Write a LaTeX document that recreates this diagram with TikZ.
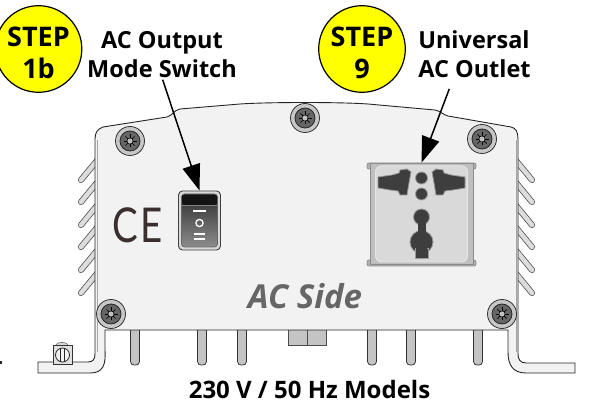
\documentclass[tikz,border=0pt]{standalone}
\usepackage{fontspec}
\setmainfont{Open Sans}
\newfontfamily\markfont{Lato}
\usetikzlibrary{arrows.meta}
\definecolor{stepyellow}{HTML}{FFFF00}
\definecolor{casefill}{HTML}{F2F2F2}
\definecolor{slotdark}{HTML}{3E3E3E}
\definecolor{pegfill}{HTML}{C4C4C4}
\definecolor{sidegray}{HTML}{666666}
\definecolor{markbrown}{HTML}{3A2E2E}
\tikzset{
    stepcircle/.style={circle, draw=black, line width=1.2pt, fill=stepyellow, minimum size=83pt, inner sep=0pt, align=center, font=\bfseries\fontsize{27}{32}\selectfont},
    calllabel/.style={inner sep=0pt, font=\bfseries\fontsize{23.5}{29}\selectfont},
    pointer/.style={draw=black, line width=1.5pt, shorten <=2pt, -{Triangle[length=26pt,width=18pt]}},
    finline/.style={draw=black!75, line width=.7pt, double=pegfill!60, double distance=4.6pt, line cap=round},
    pegline/.style={draw=black!80, line width=.8pt, fill=pegfill, rounded corners=3.5pt},
    slotline/.style={draw=black!40, line width=.8pt, fill=slotdark}
}
\begin{document}
\begin{tikzpicture}[x=1pt,y=-1pt]
    \useasboundingbox (0,0) rectangle (589,403);
    \foreach \y in {183,205,228,250,273,296} {
        \draw[finline] (100,\y-26) -- (81,\y-3);
        \draw[finline] (513,\y-26) -- (532,\y-3);
    }
    \foreach \x in {135,202,242,372,411,478} {
        \draw[pegline] (\x-4.5,325) -- (\x-4.5,365) -- (\x+4.5,365) -- (\x+4.5,325);
    }
    \draw[draw=black!70, fill=pegfill, line width=.8pt] (288,325) rectangle (307,345);
    \draw[draw=black!70, fill=pegfill, line width=.8pt] (307,325) rectangle (326,345);
    \draw[draw=black!85, fill=casefill, line width=.9pt] (38,373) -- (38,362) -- (88,362)
        .. controls (93,362) and (95,359) .. (95,354) -- (95,139)
        .. controls (95,132) and (98,129) .. (103,127) -- (167,117)
        .. controls (172,116) and (174,110) .. (180,109) -- (240,104)
        .. controls (270,102) and (340,102) .. (368,104) -- (435,110)
        .. controls (441,111) and (443,115) .. (448,116) -- (511,127)
        .. controls (516,128) and (518,132) .. (518,139) -- (518,354)
        .. controls (518,359) and (520,363) .. (526,363) -- (575,363) -- (575,373) -- (526,373)
        .. controls (513,373) and (508,365) .. (508,352) -- (508,330) -- (105,330) -- (105,350)
        .. controls (106,365) and (103,373) .. (90,373) -- cycle;
    \draw[draw=black!35, line width=.8pt] (97,140) -- (97,352);
    \draw[draw=black!35, line width=.8pt] (516,140) -- (516,352);
    \foreach \x/\y in {130/141,305/118,482/139,111/314,502/314} {
        \draw[draw=black!80, fill=black!22, line width=.8pt] (\x,\y) circle (14.5);
        \draw[draw=black!85, fill=black!60, line width=.8pt] (\x,\y) circle (10);
        \foreach \a in {0,45,...,315} {
            \draw[black, line width=.7pt] (\x,\y) -- ++(\a:6.5);
        }
        \draw[draw=black, fill=black!25, line width=.5pt] (\x,\y) circle (3);
    }
    \draw[draw=black!60, fill=black!15, line width=.6pt] (62,345) ellipse (6 and 2.5);
    \node (groundbox) [draw=black!80, fill=black!12, line width=.8pt, minimum width=19pt, minimum height=19pt, inner sep=0pt] at (62.5,354.5) {};
    \draw[draw=black!85, fill=casefill, line width=.8pt] (62.5,355) circle (7);
    \draw[black!85, line width=.7pt] (60.5,348.5) -- (60.5,361.5);
    \draw[black!85, line width=.7pt] (64.5,348.5) -- (64.5,361.5);
    \fill[black!85] (0,361) rectangle (1.5,363.5);
    \node (cemark) [text=markbrown, inner sep=0pt, xscale=.8, font=\markfont\fontsize{48}{48}\selectfont] at (138,225) {C\kern3pt E};
    \node (switchbody) [draw=black!75, fill=black!15, line width=.9pt, rounded corners=4pt, minimum width=42pt, minimum height=59pt, inner sep=0pt] at (199.5,220.5) {};
    \node (switchrocker) [draw=black!60, rounded corners=3pt, top color=black!82, bottom color=black!45, line width=.7pt, minimum width=36pt, minimum height=53pt, inner sep=0pt] at (199.5,220.5) {};
    \path[fill=black!92, rounded corners=2pt] (182,195) -- (217,195) -- (217,205) -- (182,205) -- cycle;
    \draw[black!50, line width=.6pt] (182,205) -- (217,205);
    \draw[white, line width=1.3pt] (193,211) -- (206,211);
    \draw[white, line width=1.3pt] (199.5,223) circle (3.6);
    \draw[white, line width=1.3pt] (194,234) -- (205,234);
    \draw[white, line width=1.3pt] (194,239) -- (205,239);
    \draw[draw=black!45, fill=black!30, line width=.7pt, rounded corners=2pt] (367,163) rectangle (476,169);
    \draw[draw=black!45, fill=black!30, line width=.7pt, rounded corners=2pt] (367,260) rectangle (476,266);
    \node (outletplate) [draw=black!45, fill=black!25, line width=.7pt, minimum width=103pt, minimum height=101pt, inner sep=0pt] at (421.5,213.5) {};
    \node (outletface) [draw=white!90!black, fill=black!15, line width=1pt, rounded corners=6pt, minimum width=92pt, minimum height=96pt, inner sep=0pt] at (421.5,214) {};
    \draw[slotline] (378,177) -- (392,175) -- (399,173) -- (400,170) -- (407,169) -- (411,172) -- (409,183) -- (407,195) -- (400,195) -- (398,191) -- (390,190) -- (378,188) -- cycle;
    \draw[slotline] (465,177) -- (451,175) -- (444,173) -- (443,170) -- (436,169) -- (432,172) -- (434,183) -- (436,195) -- (443,195) -- (445,191) -- (453,190) -- (465,188) -- cycle;
    \draw[slotline] (421.5,178) circle (6);
    \draw[slotline] (421.5,194) circle (6);
    \draw[slotline] (421.5,217) circle (8);
    \draw[slotline] (421.5,242) circle (11.5);
    \draw[slotline] (415,248) rectangle (428,258);
    \fill[slotdark] (417.5,222) rectangle (425.5,234);
    \fill[slotdark] (416,244) rectangle (427,257.5);
    \node (stepswitch) [stepcircle] at (38.5,49) {\rule{0pt}{28pt}STEP\\1b};
    \node (stepoutlet) [stepcircle] at (362,49) {\rule{0pt}{28pt}STEP\\9};
    \node (switchlabel) [calllabel, align=center] at (162,54.5) {AC Output\\Mode Switch};
    \node (outletlabel) [calllabel, align=left] at (474.5,54.5) {Universal\\AC Outlet};
    \coordinate (outlettail) at (450,87);
    \draw[pointer] (switchlabel.south) -- (switchbody.north);
    \draw[pointer] (outlettail) -- (outletplate.north);
    \node (sidelabel) [inner sep=0pt, text=sidegray, font=\bfseries\itshape\fontsize{33}{33}\selectfont] at (305,296) {AC Side};
    \node (modelslabel) [anchor=base, inner sep=0pt, font=\bfseries\fontsize{24}{24}\selectfont] at (309.5,398) {230 V / 50 Hz Models};
\end{tikzpicture}
\end{document}
